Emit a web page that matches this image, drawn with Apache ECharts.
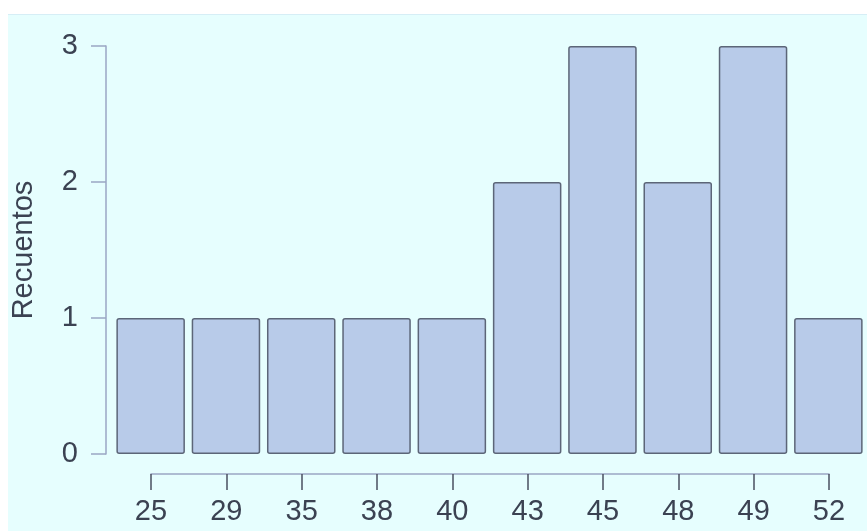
<!DOCTYPE html>
<html>
<head>
<meta charset="utf-8">
<script src="https://cdn.jsdelivr.net/npm/echarts@6/dist/echarts.min.js"></script>
<style>
  html, body { margin: 0; padding: 0; background: #fff; }
  .bg {
    position: absolute; left: 8px; top: 14px; right: 0; bottom: 0;
    background: #e6fefe; border-top: 1px solid #d6eef6;
  }
  #chart { position: absolute; left: 0; top: 0; width: 867px; height: 531px; }
</style>
</head>
<body>
<div class="bg"></div>
<div id="chart"></div>
<script>
const categories = ['25', '29', '35', '38', '40', '43', '45', '48', '49', '52']
const counts = [1, 1, 1, 1, 1, 2, 3, 2, 3, 1]
const yTicks = [0, 1, 2, 3]

const textColor = '#3b4252'
const axisColor = '#9aa6c4'
const font = 'Liberation Sans, Arial, sans-serif'

const chart = echarts.init(document.getElementById('chart'))

chart.setOption({
  animation: false,
  grid: [
    { left: 113, right: 1, top: 46, bottom: 77 },
    // narrower grid only used for the bottom axis (line runs tick to tick)
    { left: 151, right: 38, top: 440, bottom: 57 },
  ],
  xAxis: [
    {
      type: 'category',
      gridIndex: 0,
      data: categories,
      show: false,
    },
    {
      type: 'category',
      gridIndex: 1,
      data: categories,
      boundaryGap: false,
      axisLine: { lineStyle: { color: axisColor, width: 1.5 } },
      axisTick: { length: 16, lineStyle: { color: '#4a5060', width: 1.5 } },
      axisLabel: { color: textColor, fontSize: 29, fontFamily: font, margin: 23 },
    },
  ],
  yAxis: [
    {
      type: 'value',
      gridIndex: 0,
      min: yTicks[0],
      max: yTicks[yTicks.length - 1],
      interval: 1,
      offset: 7,
      name: 'Recuentos',
      nameLocation: 'middle',
      nameGap: 68,
      nameTextStyle: { color: textColor, fontSize: 29, fontFamily: font },
      axisLine: { show: true, lineStyle: { color: axisColor, width: 1.5 } },
      axisTick: { show: true, length: 15, lineStyle: { color: axisColor, width: 1.5 } },
      axisLabel: { color: textColor, fontSize: 29, fontFamily: font, margin: 28 },
      splitLine: { show: false },
    },
    {
      type: 'value',
      gridIndex: 1,
      show: false,
    },
  ],
  series: [
    {
      type: 'bar',
      xAxisIndex: 0,
      yAxisIndex: 0,
      data: counts,
      barCategoryGap: '9%',
      itemStyle: {
        color: '#b8cbe9',
        borderColor: '#5c6678',
        borderWidth: 1.5,
        borderRadius: 2,
      },
    },
  ],
})
</script>
</body>
</html>
